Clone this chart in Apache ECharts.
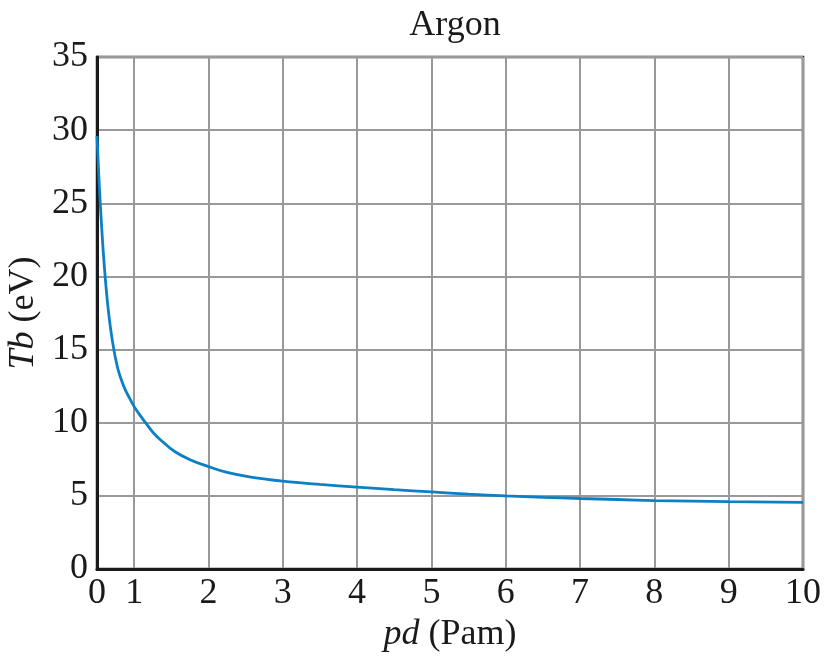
<!DOCTYPE html>
<html>
<head>
<meta charset="utf-8">
<script src="https://cdn.jsdelivr.net/npm/echarts@6/dist/echarts.min.js"></script>
<style>html,body{margin:0;padding:0;background:#fff}#c{width:829px;height:665px}</style>
</head>
<body>
<div id="c"></div>
<script>
// pd values (axis value; the left edge 0.5 is labelled "0" as in the reference)
const pdValues = [0.50, 0.53, 0.56, 0.60, 0.65, 0.71, 0.78, 0.86, 0.93, 1.00, 1.08, 1.16, 1.26, 1.36, 1.54, 1.76, 2.0, 2.25, 2.57, 3.0, 3.5, 4.0, 4.5, 5.0, 5.5, 6.0, 6.5, 7.0, 7.5, 8.0, 9.0, 10.0];
const tbValues = [29.6, 26.3, 23.6, 20.6, 17.8, 15.5, 13.7, 12.5, 11.75, 11.1, 10.5, 9.95, 9.3, 8.8, 8.05, 7.45, 7.0, 6.6, 6.28, 6.0, 5.78, 5.6, 5.42, 5.27, 5.12, 5.0, 4.9, 4.82, 4.75, 4.68, 4.6, 4.56];
const xTickValues = [0.5, 1, 2, 3, 4, 5, 6, 7, 8, 9, 10];
const xTickLabels = ['0', '1', '2', '3', '4', '5', '6', '7', '8', '9', '10'];
const titleText = 'Argon';

const font = 'Liberation Serif';
const fs = 36;
const txt = '#1a1a1a';
const chart = echarts.init(document.getElementById('c'));
chart.setOption({
  animation: false,
  title: {
    text: titleText, left: 450, top: 3, textAlign: 'center',
    textStyle: { fontFamily: font, fontSize: fs, fontWeight: 'normal', color: txt }
  },
  grid: { left: 97, right: 26, top: 57, bottom: 96, containLabel: false, outerBoundsMode: 'none', show: true, borderColor: '#1a1a1a', borderWidth: 2.5, backgroundColor: 'transparent' },
  xAxis: {
    type: 'value', min: 0.5, max: 10,
    name: '{i|pd} (Pam)', nameLocation: 'middle', nameGap: 45,
    nameTextStyle: { fontFamily: font, fontSize: fs, color: txt, rich: { i: { fontFamily: font, fontSize: fs, fontStyle: 'italic', color: txt } } },
    axisLine: { show: true, lineStyle: { color: '#1a1a1a', width: 3 } },
    axisTick: { show: false, customValues: xTickValues },
    axisLabel: {
      customValues: xTickValues, margin: 7,
      fontFamily: font, fontSize: fs, color: txt,
      formatter: function (v) { const i = xTickValues.indexOf(v); return i >= 0 ? xTickLabels[i] : ''; }
    },
    splitLine: { show: true, lineStyle: { color: '#999', width: 2 } }
  },
  yAxis: {
    type: 'value', min: 0, max: 35, interval: 5,
    name: '{i|Tb} (eV)', nameLocation: 'middle', nameGap: 41,
    nameTextStyle: { fontFamily: font, fontSize: fs, color: txt, rich: { i: { fontFamily: font, fontSize: fs, fontStyle: 'italic', color: txt } } },
    axisLine: { show: true, lineStyle: { color: '#1a1a1a', width: 3 } },
    axisTick: { show: false },
    axisLabel: { margin: 9, fontFamily: font, fontSize: fs, color: txt },
    splitLine: { show: true, lineStyle: { color: '#999', width: 2 } }
  },
  series: [{
    type: 'line', smooth: 0.4, symbol: 'none',
    data: pdValues.map((x, i) => [x, tbValues[i]]),
    lineStyle: { color: '#0b80c6', width: 2.8 }
  }]
});
</script>
</body>
</html>
